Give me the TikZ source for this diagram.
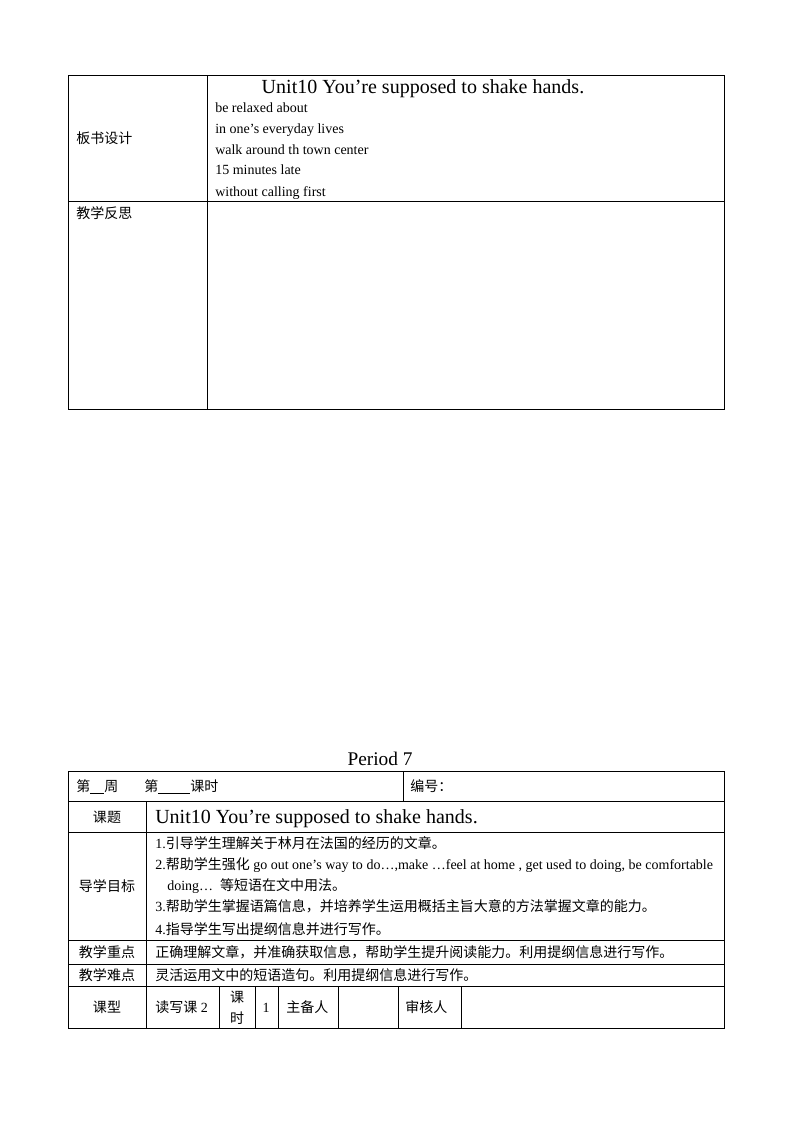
\documentclass[tikz,border=0pt]{standalone}
\usepackage{fontspec}
\setmainfont{Liberation Serif}
\newfontfamily\cjk{Noto Sans CJK SC}
\usepackage{tikz}

\begin{document}
\begin{tikzpicture}[x=0.7497pt, y=-0.7497pt,
  tbl/.style={line width=0.75pt},
  txt/.style={anchor=base west, inner sep=0pt, font=\fontsize{10.5}{12}\selectfont},
  lbl/.style={anchor=base, inner sep=0pt, font=\fontsize{10.5}{12}\selectfont},
  big/.style={anchor=base west, inner sep=0pt, font=\fontsize{15}{18}\selectfont}]
\useasboundingbox (0,0) rectangle (794,1123);

\draw[tbl] (68,76) rectangle (724,409);
\draw[tbl] (207,76) -- (207,409);
\draw[tbl] (68,201) -- (724,201);
\node[txt] (bsLabel) at (76,144) {\cjk 板书设计};
\node[txt] (fsLabel) at (76,218) {\cjk 教学反思};
\node[big, anchor=base] (bsTitle) at (423,94) {Unit10 You’re supposed to shake hands.};
\node[txt] (bsA) at (215,113) {be relaxed about};
\node[txt] (bsB) at (215,134) {in one’s everyday lives};
\node[txt] (bsC) at (215,155) {walk around th town center};
\node[txt] (bsD) at (215,175) {15 minutes late};
\node[txt] (bsE) at (215,196) {without calling first};

\node[big, anchor=base, font=\fontsize{14.5}{17}\selectfont] (period) at (380,765) {Period 7};
\draw[tbl] (68,771) rectangle (724,1028);
\foreach \y in {801,832,940,964,986}
  \draw[tbl] (68,\y) -- (724,\y);
\draw[tbl] (403,771) -- (403,801);
\draw[tbl] (146,801) -- (146,1028);
\foreach \x in {219,255,278,338,398,461}
  \draw[tbl] (\x,986) -- (\x,1028);

\node[txt] (week) at (76,791) {{\cjk 第}\underline{\hspace{10.5pt}}{\cjk 周}};
\node[txt] (hour) at (144,791) {{\cjk 第}\underline{\hspace{24pt}}{\cjk 课时}};
\node[txt] (code) at (410,791) {\cjk 编号：};

\node[lbl] (ktLabel) at (107,822) {\cjk 课题};
\node[big] (ktText) at (155,823) {Unit10 You’re supposed to shake hands.};

\node[lbl] (mbLabel) at (107,891) {\cjk 导学目标};
\node[txt] (mbA) at (155,848) {1.{\cjk 引导学生理解关于林月在法国的经历的文章。}};
\node[txt] (mbB) at (155,869) {2.{\cjk 帮助学生强化} go out one’s way to do…,make …feel at home , get used to doing, be comfortable};
\node[txt] (mbC) at (167,890) {doing…\ \ {\cjk 等短语在文中用法。}};
\node[txt] (mbD) at (155,911) {3.{\cjk 帮助学生掌握语篇信息，并培养学生运用概括主旨大意的方法掌握文章的能力。}};
\node[txt] (mbE) at (155,934) {4.{\cjk 指导学生写出提纲信息并进行写作。}};

\node[lbl] (zdLabel) at (107,957) {\cjk 教学重点};
\node[txt] (zdText) at (155,957) {\cjk 正确理解文章，并准确获取信息，帮助学生提升阅读能力。利用提纲信息进行写作。};
\node[lbl] (ndLabel) at (107,980) {\cjk 教学难点};
\node[txt] (ndText) at (155,980) {\cjk 灵活运用文中的短语造句。利用提纲信息进行写作。};

\node[lbl] (kxLabel) at (107,1012) {\cjk 课型};
\node[txt] (kxText) at (155,1012) {{\cjk 读写课} 2};
\node[lbl] (ksA) at (237,1002) {\cjk 课};
\node[lbl] (ksB) at (237,1023) {\cjk 时};
\node[lbl] (ksNum) at (266,1012) {1};
\node[txt] (zbr) at (286,1012) {\cjk 主备人};
\node[txt] (shr) at (405,1012) {\cjk 审核人};
\end{tikzpicture}
\end{document}
